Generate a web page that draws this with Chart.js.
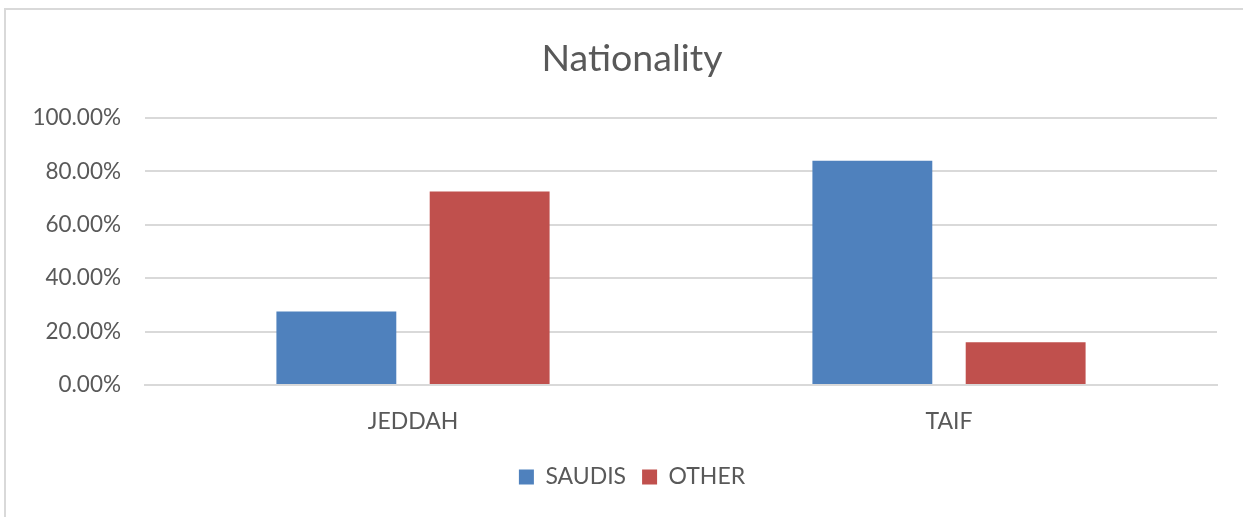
<!DOCTYPE html>
<html>
<head>
<meta charset="utf-8">
<script src="https://cdn.jsdelivr.net/npm/chart.js@4"></script>
<style>
    body { margin: 0; background: #fff; }
    #wrap { position: relative; width: 1243px; height: 517px; }
    #frame { position: absolute; left: 4px; top: 8px; width: 1260px; height: 530px; border: 2px solid #d9d9d9; box-sizing: border-box; }
    canvas { position: absolute; left: 0; top: 0; }
</style>
</head>
<body>
<div id="wrap">
    <div id="frame"></div>
    <canvas id="nationality-chart" width="1243" height="517"></canvas>
</div>
<script>
const nationalityData = {
    labels: ['JEDDAH', 'TAIF'],
    saudis: [27.5, 84.0],
    other: [72.5, 16.0]
};

document.addEventListener('DOMContentLoaded', () => {
    const ctx = document.getElementById('nationality-chart').getContext('2d');
    Chart.defaults.font.family = "Lato, sans-serif";
    Chart.defaults.color = '#595959';

    new Chart(ctx, {
        type: 'bar',
        data: {
            labels: nationalityData.labels,
            datasets: [
                { label: 'SAUDIS', data: nationalityData.saudis, backgroundColor: '#4f81bd',
                  categoryPercentage: 0.572, barPercentage: 0.782 },
                { label: 'OTHER', data: nationalityData.other, backgroundColor: '#c0504d',
                  categoryPercentage: 0.572, barPercentage: 0.782 }
            ]
        },
        options: {
            responsive: false,
            animation: false,
            layout: { padding: { left: 21, right: 0, top: 0, bottom: 18.5 } },
            scales: {
                x: {
                    grid: { display: false },
                    border: { color: '#d9d9d9', width: 2 },
                    ticks: { font: { size: 23 }, padding: 14.5, color: '#595959' }
                },
                y: {
                    min: 0, max: 100,
                    afterFit: scale => { scale.width = 124; },
                    ticks: {
                        stepSize: 20, padding: 24, font: { size: 22.5 }, color: '#595959',
                        callback: v => v.toFixed(2) + '%'
                    },
                    grid: { color: '#d9d9d9', lineWidth: 2, drawTicks: false },
                    border: { display: false }
                },
                // empty right-hand spacer so the plot ends where the original does
                spacer: {
                    type: 'linear', position: 'right',
                    afterFit: scale => { scale.width = 26; },
                    ticks: { display: false },
                    grid: { display: false, drawTicks: false },
                    border: { display: false }
                }
            },
            plugins: {
                title: {
                    display: true, text: 'Nationality', color: '#595959',
                    font: { size: 37.5, weight: 'normal' },
                    padding: { top: 36, bottom: 37 }
                },
                legend: {
                    position: 'bottom',
                    labels: { boxWidth: 15, boxHeight: 15, font: { size: 23 }, padding: 16, color: '#595959' }
                },
                tooltip: { enabled: false }
            }
        }
    });
});
</script>
</body>
</html>
